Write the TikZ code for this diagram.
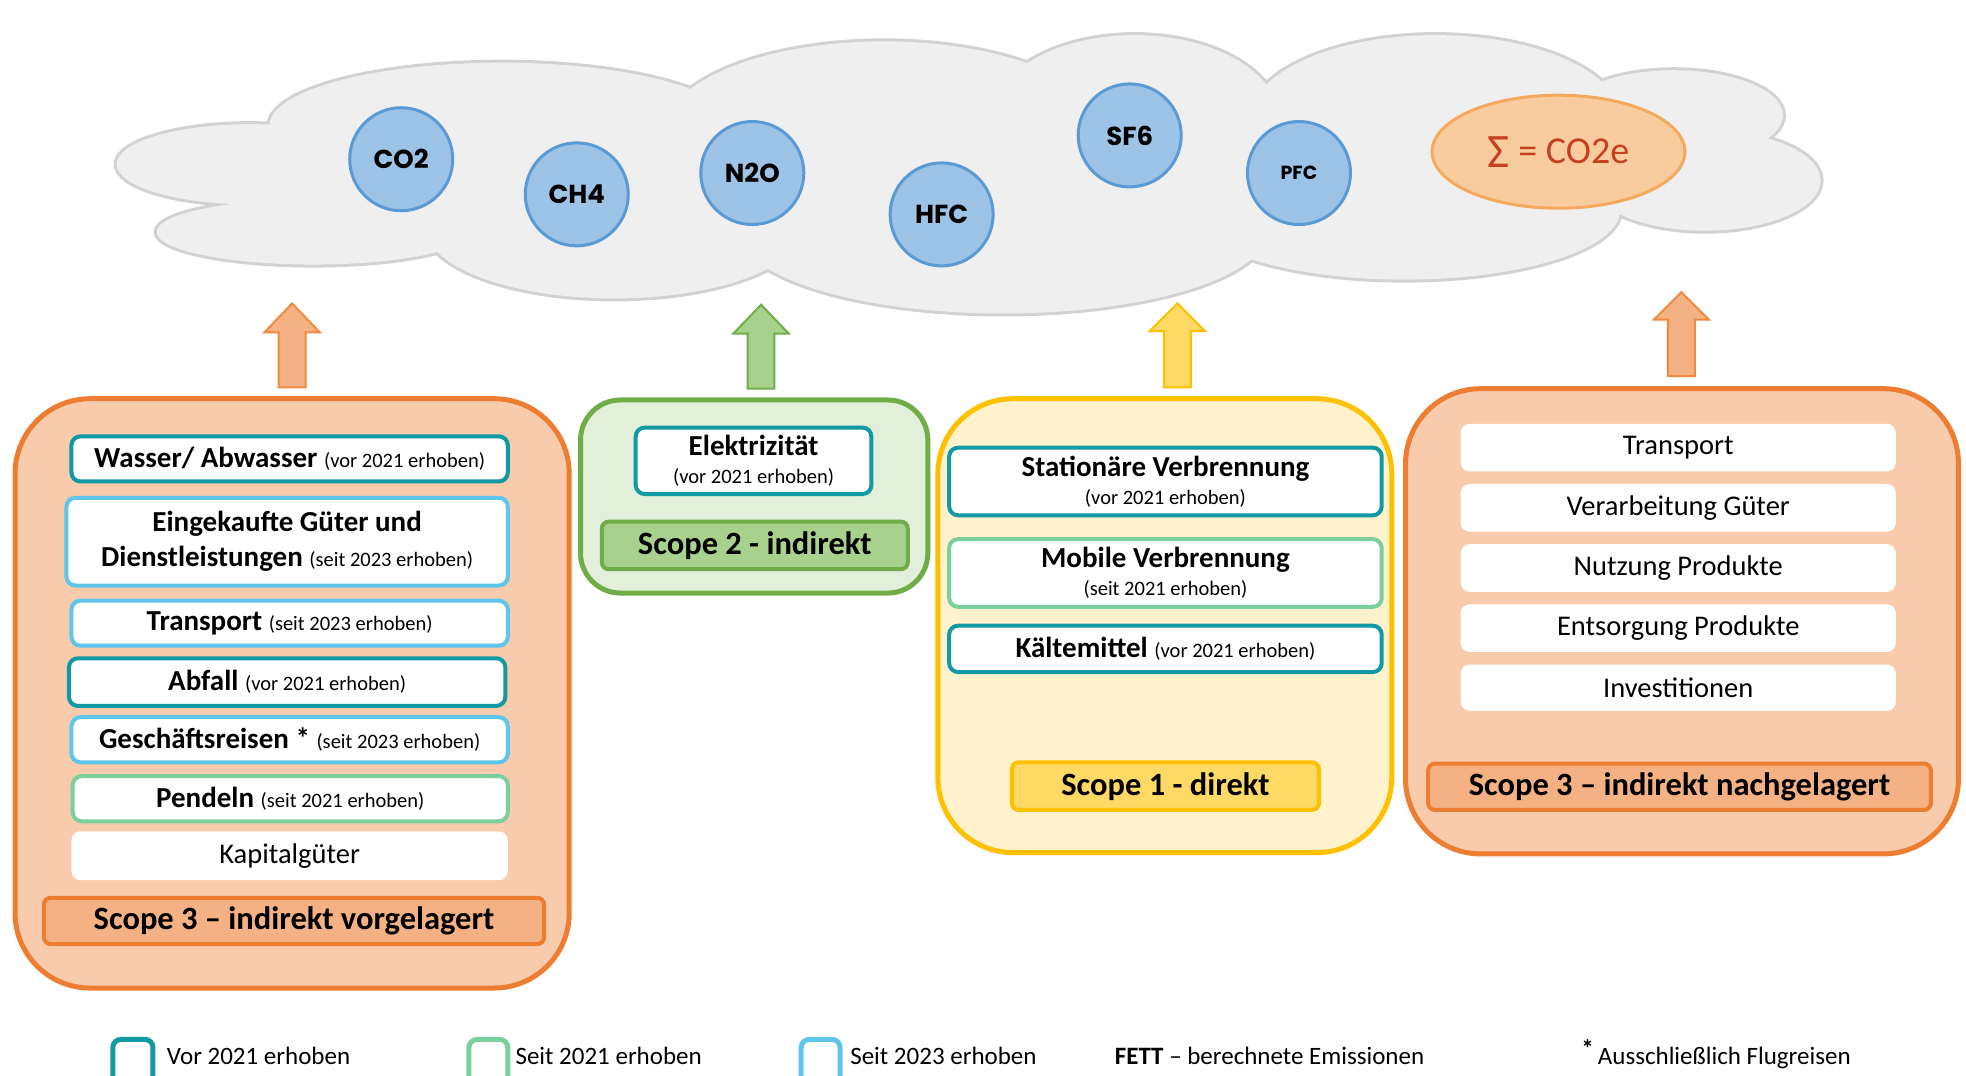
\documentclass[tikz,border=0pt]{standalone}
\usepackage{fontspec}
\setmainfont{Carlito}
\newfontfamily\gasfont{Poppins}
\usetikzlibrary{fit,shapes.geometric}
\definecolor{cloudfill}{HTML}{EFEFEF}
\definecolor{cloudline}{HTML}{D2D2D2}
\definecolor{gasfill}{HTML}{9DC3E6}
\definecolor{gasline}{HTML}{5B9BD5}
\definecolor{sumfill}{HTML}{F8CC9E}
\definecolor{sumline}{HTML}{F4A95C}
\definecolor{sumtext}{HTML}{C5401F}
\definecolor{orpanel}{HTML}{F8CBAD}
\definecolor{orline}{HTML}{ED7D31}
\definecolor{orlabel}{HTML}{F4B183}
\definecolor{grpanel}{HTML}{E2EFDA}
\definecolor{grline}{HTML}{70AD47}
\definecolor{grlabel}{HTML}{A9D18E}
\definecolor{yepanel}{HTML}{FFF2CC}
\definecolor{yeline}{HTML}{FFC000}
\definecolor{yelabel}{HTML}{FFD966}
\definecolor{cTeal}{HTML}{1199A4}
\definecolor{cBlue}{HTML}{5EC6EA}
\definecolor{cGreen}{HTML}{7ACF9D}
\definecolor{arrowor}{HTML}{F08A40}
\newcommand\smtxt[1]{{\fontsize{20.5}{24}\selectfont #1}}
\tikzset{
  panel/.style={line width=5pt, inner sep=0pt},
  itembox/.style={draw, line width=4pt, rounded corners=9pt, fill=white, inner sep=0pt},
  tealbox/.style={itembox, draw=cTeal},
  bluebox/.style={itembox, draw=cBlue},
  greenbox/.style={itembox, draw=cGreen},
  plainbox/.style={itembox, draw=none},
  boxtext/.style={inner sep=0pt, align=center, font=\fontsize{29}{35}\selectfont},
  plaintext/.style={inner sep=0pt, font=\fontsize{28.5}{34}\selectfont},
  scopelabel/.style={draw, line width=4pt, rounded corners=7pt, inner sep=0pt},
  labeltext/.style={inner sep=0pt, font=\fontsize{32.5}{38}\selectfont\bfseries},
  gas/.style={circle, draw=gasline, fill=gasfill, line width=3pt, minimum size=103pt, inner sep=0pt, font=\gasfont\bfseries\fontsize{26}{30}\selectfont},
  legsq/.style={draw, line width=5pt, rounded corners=8pt, fill=white, inner sep=0pt},
  legtext/.style={anchor=base west, inner sep=0pt, font=\fontsize{25}{30}\selectfont},
  blockarrow/.style={line width=2pt, line join=miter}
}
\begin{document}
\begin{tikzpicture}[x=1.2538pt, y=-1.2538pt]
\useasboundingbox (0,0) rectangle (1568,858);
\clip (0,0) rectangle (1568,858);
\fill[white] (0,0) rectangle (1568,858);
% cloud
\foreach \cx/\cy/\rx/\ry in {200/131/107/32, 250/185/125/26, 400/100/185/50, 490/182/150/56, 705/105/175/72, 800/185/210/65, 905/95/115/67, 1145/95/148/67, 1120/168/172/55, 1335/92/87/36, 1360/144/92/40}
  \draw[cloudline, line width=6pt] (\cx,\cy) ellipse [x radius=\rx, y radius=\ry];
\foreach \cx/\cy/\rx/\ry in {200/131/107/32, 250/185/125/26, 400/100/185/50, 490/182/150/56, 705/105/175/72, 800/185/210/65, 905/95/115/67, 1145/95/148/67, 1120/168/172/55, 1335/92/87/36, 1360/144/92/40, 400/150/200/45, 800/130/400/70}
  \fill[cloudfill] (\cx,\cy) ellipse [x radius=\rx, y radius=\ry];
% gases
\node[gas] (co2) at (320,127) {CO2};
\node[gas] (ch4) at (460,155) {CH4};
\node[gas] (n2o) at (600,138) {N2O};
\node[gas] (hfc) at (751,171) {HFC};
\node[gas] (sf6) at (901,108) {SF6};
\node[gas, font=\gasfont\bfseries\fontsize{19}{22}\selectfont] (pfc) at (1036,138) {PFC};
\node[ellipse, draw=sumline, fill=sumfill, line width=3pt, minimum width=253pt, minimum height=113pt, inner sep=0pt, text=sumtext, font=\fontsize{38}{44}\selectfont] (sum) at (1243,121) {\raisebox{-4pt}{\fontsize{48}{48}\selectfont Σ} = CO2e};
% block arrows
\draw[blockarrow, draw=arrowor, fill=orlabel] (233,242) -- (255,265) -- (243.7,265) -- (243.7,309) -- (222.3,309) -- (222.3,265) -- (211,265) -- cycle;
\draw[blockarrow, draw=grline, fill=grlabel] (607,243) -- (629,266) -- (617.7,266) -- (617.7,310) -- (596.3,310) -- (596.3,266) -- (585,266) -- cycle;
\draw[blockarrow, draw=yeline, fill=yelabel] (939,242) -- (961,264) -- (949.7,264) -- (949.7,309) -- (928.3,309) -- (928.3,264) -- (917,264) -- cycle;
\draw[blockarrow, draw=arrowor, fill=orlabel] (1341,233) -- (1363,255) -- (1351.7,255) -- (1351.7,300) -- (1330.3,300) -- (1330.3,255) -- (1319,255) -- cycle;
% Scope 3 upstream
\node[panel, draw=orline, fill=orpanel, rounded corners=75pt, fit={(12,318) (454,788)}] (up) {};
\node[tealbox, fit={(57,348) (405,384)}] (wasser) {};
\node[boxtext] at (wasser.center) {\textbf{Wasser/ Abwasser} \smtxt{(vor 2021 erhoben)}};
\node[bluebox, fit={(53,397) (405,467)}] (guter) {};
\node[boxtext] at (guter.center) {\textbf{Eingekaufte Güter und}\\\textbf{Dienstleistungen} \smtxt{(seit 2023 erhoben)}};
\node[bluebox, fit={(57,479) (405,515)}] (trans) {};
\node[boxtext] at (trans.center) {\textbf{Transport} \smtxt{(seit 2023 erhoben)}};
\node[tealbox, fit={(55,525) (403,563)}] (abfall) {};
\node[boxtext] at (abfall.center) {\textbf{Abfall} \smtxt{(vor 2021 erhoben)}};
\node[bluebox, fit={(57,572) (405,608)}] (reisen) {};
\node[boxtext] at (reisen.center) {\textbf{Geschäftsreisen *}\ \smtxt{(seit 2023 erhoben)}};
\node[greenbox, fit={(58,619) (405,655)}] (pendeln) {};
\node[boxtext] at (pendeln.center) {\textbf{Pendeln} \smtxt{(seit 2021 erhoben)}};
\node[plainbox, fit={(57,663) (405,702)}] (kapital) {};
\node[plaintext] at (kapital.center) {Kapitalgüter};
\node[scopelabel, draw=orline, fill=orlabel, fit={(35,716) (434,753)}] (upl) {};
\node[labeltext] at (upl.center) {Scope 3 – indirekt vorgelagert};
% Scope 2
\node[panel, draw=grline, fill=grpanel, rounded corners=40pt, fit={(463,319) (740,473)}] (s2) {};
\node[tealbox, fit={(507,341) (695,394)}] (elek) {};
\node[boxtext] at (elek.center) {\textbf{Elektrizität}\\[-7pt]\smtxt{(vor 2021 erhoben)}};
\node[scopelabel, draw=grline, fill=grlabel, fit={(480,416) (724,454)}] (s2l) {};
\node[labeltext] at (s2l.center) {Scope 2 - indirekt};
% Scope 1
\node[panel, draw=yeline, fill=yepanel, rounded corners=75pt, fit={(748,318) (1110,680)}] (s1) {};
\node[tealbox, fit={(757,357) (1102,411)}] (stat) {};
\node[boxtext] at (stat.center) {\textbf{Stationäre Verbrennung}\\[-7pt]\smtxt{(vor 2021 erhoben)}};
\node[greenbox, fit={(757,430) (1102,484)}] (mob) {};
\node[boxtext] at (mob.center) {\textbf{Mobile Verbrennung}\\[-7pt]\smtxt{(seit 2021 erhoben)}};
\node[tealbox, fit={(757,499) (1102,536)}] (kalt) {};
\node[boxtext] at (kalt.center) {\textbf{Kältemittel} \smtxt{(vor 2021 erhoben)}};
\node[scopelabel, draw=yeline, fill=yelabel, fit={(807,608) (1052,646)}] (s1l) {};
\node[labeltext] at (s1l.center) {Scope 1 - direkt};
% Scope 3 downstream
\node[panel, draw=orline, fill=orpanel, rounded corners=75pt, fit={(1121,310) (1562,681)}] (down) {};
\node[plainbox, fit={(1165,338) (1512,376)}] (dtrans) {};
\node[plaintext] at (dtrans.center) {Transport};
\node[plainbox, fit={(1165,386) (1512,424)}] (dverarb) {};
\node[plaintext] at (dverarb.center) {Verarbeitung Güter};
\node[plainbox, fit={(1165,434) (1512,472)}] (dnutz) {};
\node[plaintext] at (dnutz.center) {Nutzung Produkte};
\node[plainbox, fit={(1165,482) (1512,520)}] (dents) {};
\node[plaintext] at (dents.center) {Entsorgung Produkte};
\node[plainbox, fit={(1165,530) (1512,567)}] (dinv) {};
\node[plaintext] at (dinv.center) {Investitionen};
\node[scopelabel, draw=orline, fill=orlabel, fit={(1139,609) (1540,646)}] (downl) {};
\node[labeltext] at (downl.center) {Scope 3 – indirekt nachgelagert};
% legend
\node[legsq, draw=cTeal, fit={(90,829) (122,868)}] (lq1) {};
\node[legtext] (lt1) at (133,849) {Vor 2021 erhoben};
\node[legsq, draw=cGreen, fit={(374,829) (405,868)}] (lq2) {};
\node[legtext] (lt2) at (411,849) {Seit 2021 erhoben};
\node[legsq, draw=cBlue, fit={(639,829) (670,868)}] (lq3) {};
\node[legtext] (lt3) at (678,849) {Seit 2023 erhoben};
\node[legtext] (lt4) at (889,849) {\textbf{FETT} – berechnete Emissionen};
\node[legtext] (lt5) at (1261,849) {\raisebox{7pt}{\textbf{*}}\,Ausschließlich Flugreisen};
\end{tikzpicture}
\end{document}
